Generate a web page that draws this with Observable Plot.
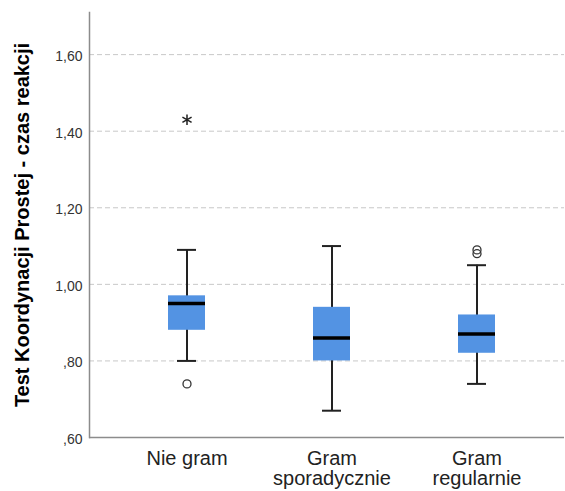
<!DOCTYPE html>
<html><head><meta charset="utf-8">
<script src="https://cdn.jsdelivr.net/npm/d3@7"></script>
<script src="https://cdn.jsdelivr.net/npm/@observablehq/plot@0.6"></script>
<style>
body{margin:0;background:#fff}
g[aria-label="y-axis label"] text{font-weight:bold;font-size:20px;fill:#000}
g[aria-label="y-axis tick label"]{fill:#333}
g[aria-label="x-axis tick label"]{fill:#222}
</style>
</head><body><div id="chart"></div>
<script>
const categories = ["Nie gram", "Gram\nsporadycznie", "Gram\nregularnie"];
const whiskerLow = [0.80, 0.67, 0.74];
const q1 = [0.88, 0.80, 0.82];
const median = [0.95, 0.86, 0.87];
const q3 = [0.97, 0.94, 0.92];
const whiskerHigh = [1.09, 1.10, 1.05];
const outlierGroup = ["Nie gram", "Gram\nregularnie", "Gram\nregularnie"];
const outlierValue = [0.74, 1.09, 1.08];
const extremeGroup = ["Nie gram"];
const extremeValue = [1.43];
const yTicks = [0.6, 0.8, 1.0, 1.2, 1.4, 1.6];
const yLabel = "Test Koordynacji Prostej - czas reakcji";

const boxes = categories.map((c, i) => ({cat: c, lo: whiskerLow[i], q1: q1[i], med: median[i], q3: q3[i], hi: whiskerHigh[i]}));
const outliers = outlierGroup.map((c, i) => ({cat: c, v: outlierValue[i]}));
const extremes = extremeGroup.map((c, i) => ({cat: c, v: extremeValue[i]}));
const fmt = d => d3.format(".2f")(d).replace(".", ",").replace(/^0/, "");

const chart = Plot.plot({
  width: 565, height: 491,
  marginLeft: 89, marginTop: 12, marginBottom: 54, marginRight: 1,
  style: {fontFamily: "'Liberation Sans', Arial, sans-serif", background: "#fff"},
  x: {type: "band", domain: categories, range: [113.5, 548.5], padding: 0},
  y: {domain: [0.6, 1.71]},
  marks: [
    Plot.ruleY(yTicks.filter(d => d > 0.6), {stroke: "#c8c8c8", strokeDasharray: "5,3"}),
    Plot.ruleY([0.6], {stroke: "#8c8c8c", strokeWidth: 1.5}),
    Plot.frame({anchor: "left", stroke: "#8c8c8c", strokeWidth: 1.5}),
    Plot.axisY({ticks: yTicks, tickSize: 0, tickPadding: 7, tickFormat: fmt, fontSize: 14, dy: 2,
      label: yLabel, labelAnchor: "center", labelOffset: 75, labelArrow: "none"}),
    Plot.axisX({tickSize: 0, tickPadding: 13, fontSize: 20, lineHeight: 1.02, label: null}),
    Plot.ruleX(boxes, {x: "cat", y1: "lo", y2: "hi", stroke: "#222", strokeWidth: 2}),
    Plot.barY(boxes, {x: "cat", y1: "q1", y2: "q3", fill: "#5393e3", insetLeft: 54, insetRight: 54}),
    Plot.tickY(boxes, {x: "cat", y: "med", stroke: "#000", strokeWidth: 3.5, insetLeft: 54, insetRight: 54}),
    Plot.tickY(boxes, {x: "cat", y: "lo", stroke: "#222", strokeWidth: 2, insetLeft: 63, insetRight: 63}),
    Plot.tickY(boxes, {x: "cat", y: "hi", stroke: "#222", strokeWidth: 2, insetLeft: 63, insetRight: 63}),
    Plot.dot(outliers, {x: "cat", y: "v", r: 4, stroke: "#333", fill: "none", strokeWidth: 1.3}),
    Plot.dot(extremes, {x: "cat", y: "v", symbol: "asterisk", r: 5, stroke: "#222", strokeWidth: 1.5})
  ]
});
document.getElementById("chart").appendChild(chart);
</script>
</body></html>
